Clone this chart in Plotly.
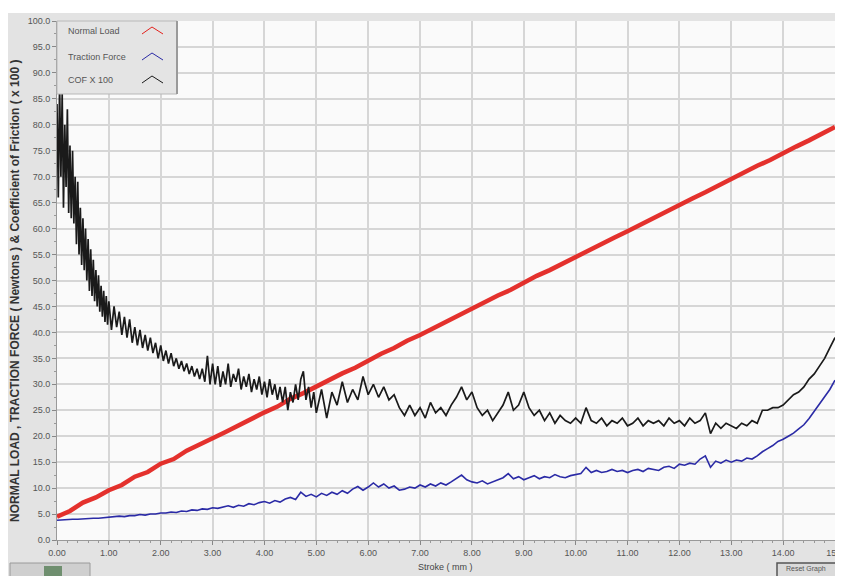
import numpy as np
import plotly.graph_objects as go

# ---------------- data ----------------
load_x = [round(0.25 * i, 2) for i in range(61)]
normal_load = [4.5, 5.6, 7.2, 8.2, 9.6, 10.6, 12.2, 13.1, 14.7, 15.6, 17.2, 18.3, 19.6, 20.8,
               22.1, 23.4, 24.6, 25.7, 27.2, 28.3, 29.6, 30.8, 32.1, 33.2, 34.6, 35.9, 37.0,
               38.4, 39.5, 40.8, 42.1, 43.2, 44.6, 45.8, 47.1, 48.2, 49.6, 50.9, 52.0, 53.3,
               54.6, 55.7, 57.1, 58.3, 59.5, 60.8, 62.1, 63.2, 64.6, 65.8, 67.0, 68.3, 69.6,
               70.7, 72.1, 73.2, 74.6, 75.8, 77.0, 78.3, 79.6]

force_x = [round(0.1 * i, 1) for i in range(151)]
traction_force = [3.8, 3.9, 3.9, 4.0, 4.0, 4.1, 4.1, 4.2, 4.2, 4.3, 4.4,
                  4.4, 4.6, 4.5, 4.7, 4.7, 4.9, 4.8, 5.0, 5.0, 5.2,
                  5.2, 5.4, 5.3, 5.6, 5.5, 5.8, 5.7, 6.0, 5.9, 6.2,
                  6.1, 6.4, 6.6, 6.3, 6.7, 6.5, 7.0, 6.8, 7.2, 7.4,
                  7.1, 7.6, 7.3, 7.9, 8.2, 7.8, 9.2, 8.4, 8.8, 8.3,
                  9.0, 8.6, 9.2, 8.8, 9.5, 9.0, 9.8, 10.3, 9.6, 10.2,
                  11.0, 10.2, 10.8, 10.0, 10.4, 9.6, 9.8, 10.2, 10.0, 10.6,
                  10.2, 10.8, 10.4, 11.0, 10.6, 11.2, 11.8, 12.5, 11.6, 11.2,
                  11.0, 11.4, 10.8, 11.2, 11.6, 12.0, 12.8, 11.8, 12.2, 11.6,
                  12.0, 12.4, 11.8, 12.2, 12.0, 12.6, 12.2, 12.0, 12.4, 12.6,
                  12.8, 14.0, 13.0, 13.4, 13.0, 13.2, 13.6, 13.2, 13.4, 13.0,
                  13.4, 13.6, 13.2, 13.8, 13.6, 13.4, 14.0, 14.2, 13.8, 14.6,
                  14.4, 14.8, 14.6, 15.6, 16.2, 14.0, 15.2, 14.8, 15.4, 15.0,
                  15.4, 15.2, 15.8, 15.6, 16.2, 17.0, 17.6, 18.2, 19.0, 19.4,
                  20.0, 20.6, 21.4, 22.2, 23.4, 24.8, 26.2, 27.4, 29.0, 30.8]

cof_x = ([round(0.025 * i, 3) for i in range(41)]
         + [round(1.0 + 0.05 * i, 2) for i in range(1, 81)]
         + [round(5.0 + 0.1 * i, 1) for i in range(1, 101)])
cof_x100 = [84, 66, 88, 70, 86, 64, 80, 68, 83, 63, 76, 62, 75, 61, 70, 57, 69, 55, 64, 53,
            62, 52, 60, 50, 58, 48, 56, 47, 54, 46, 52, 45, 51, 44, 49, 43, 48, 42, 47, 41.5, 46,
            # 1.05 - 3.00
            40.5, 45, 41, 44, 39.5, 43, 39, 42.5, 38, 41, 37.5, 40.5, 37, 39.5, 36.5, 39, 36, 38,
            35, 37.5, 34.5, 36.5, 34, 36, 33.5, 35, 33, 34.5, 32.5, 34, 32, 33.5, 31.5, 33, 31,
            33, 30.5, 35.5, 30, 34,
            # 3.05 - 5.00
            30, 33.5, 29.5, 32.5, 30, 34, 29.5, 32, 30.5, 33, 29, 31.5, 29.5, 32, 28.5, 31, 29,
            31.5, 28, 30.5, 27.5, 31, 28, 30, 27, 29.5, 26.5, 29.5, 25, 28.5, 26.5, 30, 27, 31,
            32.5, 27, 29.5, 25.5, 28.5, 24.5,
            # 5.1 - 15.0
            29, 23.5, 28.5, 26, 30.5, 26.5, 29, 27, 31.5, 28,
            30, 27.5, 29.5, 27, 28, 25.5, 24, 26, 24, 25.5,
            23.5, 26.5, 24.5, 25.5, 24, 26, 27.5, 29.5, 27, 28.5,
            25.5, 24, 25, 23, 24.5, 26, 28.5, 25, 26, 28.5,
            25.5, 24, 25, 23, 24.5, 22.5, 24, 23, 22.5, 23.5,
            22.5, 25.5, 23, 22.5, 23.5, 22, 23, 22.5, 23.5, 22,
            22.5, 23.5, 22, 23, 22.5, 23, 22, 23.5, 22.5, 23,
            22, 23.5, 22.5, 23, 24.5, 20.5, 22.5, 21.5, 22.5, 22,
            21.5, 22.5, 22, 23, 22.5, 25, 25, 25.5, 25.5, 26,
            27, 28, 28.5, 29.5, 31, 32, 33.5, 35, 37, 39]

series_names = ["Normal Load", "Traction Force", "COF X 100"]
series_colors = ["#e3211c", "#2b2ba6", "#1a1a1a"]
x_tick_vals = list(range(16))
x_tick_text = ["%.2f" % v for v in x_tick_vals[:-1]] + ["15.0"]
y_tick_vals = [5 * i for i in range(21)]
y_tick_text = ["%.1f" % v for v in y_tick_vals]
y_title = "NORMAL LOAD , TRACTION FORCE ( Newtons ) & Coefficient of Friction ( x 100 )"
x_title = "Stroke ( mm )"

# ---------------- figure ----------------
fig = go.Figure()
fig.add_trace(go.Scatter(x=load_x, y=normal_load, mode="lines", name=series_names[0],
                         line=dict(color=series_colors[0], width=4.5), opacity=0.92))
fig.add_trace(go.Scatter(x=force_x, y=traction_force, mode="lines", name=series_names[1],
                         line=dict(color=series_colors[1], width=1.6)))
fig.add_trace(go.Scatter(x=cof_x, y=cof_x100, mode="lines", name=series_names[2],
                         line=dict(color=series_colors[2], width=1.7)))

# The page body has an 8px margin, so the figure sits at (8, 8) in the window.
OFF = 8
W, H = 843 - OFF, 576 - OFF
# window pixel positions of the plot area in the reference
WL, WR, WT, WB = 57, 835, 21, 540
L, T = WL - OFF, WT - OFF
R = W - (WR - OFF)
B = H - (WB - OFF)
pw, ph = W - L - R, H - T - B


def px2x(px):  # window px -> paper
    return (px - WL) / pw


def py2y(py):
    return 1 - (py - WT) / ph


shapes = []
annotations = []
# white strip at the top of the window
shapes.append(dict(type="rect", xref="paper", yref="paper", x0=px2x(0), x1=px2x(850),
                   y0=py2y(13), y1=py2y(-5), fillcolor="white", line=dict(width=0), layer="above"))
# white strip at the right edge of the window
shapes.append(dict(type="rect", xref="paper", yref="paper", x0=px2x(840), x1=px2x(850),
                   y0=py2y(600), y1=py2y(-5), fillcolor="white", line=dict(width=0), layer="above"))
# custom legend box (LabVIEW style)
shapes.append(dict(type="rect", xref="paper", yref="paper", x0=px2x(57), x1=px2x(177),
                   y0=py2y(94), y1=py2y(21), fillcolor="#e4e4e4",
                   line=dict(color="#b8b8b8", width=1), layer="above"))
shapes.append(dict(type="line", xref="paper", yref="paper", x0=px2x(177), x1=px2x(177),
                   y0=py2y(94), y1=py2y(21), line=dict(color="#9a9a9a", width=2), layer="above"))
legend_rows = [31, 57, 80]
for name, col, row in zip(series_names, series_colors, legend_rows):
    annotations.append(dict(xref="paper", yref="paper", x=px2x(66), y=py2y(row), text=name,
                            showarrow=False, xanchor="left", yanchor="middle",
                            font=dict(family="Liberation Sans Narrow, Liberation Sans", size=9, color="#555")))
    gx0, gx1 = px2x(142), px2x(163)
    gm = px2x(152)
    path = "M %f,%f L %f,%f L %f,%f" % (gx0, py2y(row + 3), gm, py2y(row - 4), gx1, py2y(row + 3))
    shapes.append(dict(type="path", xref="paper", yref="paper", path=path,
                       line=dict(color=col, width=1), layer="above"))

# bottom widgets
shapes.append(dict(type="rect", xref="paper", yref="paper", x0=px2x(10), x1=px2x(90),
                   y0=py2y(580), y1=py2y(563), fillcolor="#cfcfcf",
                   line=dict(color="#9a9a9a", width=1), layer="above"))
shapes.append(dict(type="rect", xref="paper", yref="paper", x0=px2x(44), x1=px2x(62),
                   y0=py2y(576), y1=py2y(566), fillcolor="#6f8f6f",
                   line=dict(width=0), layer="above"))
shapes.append(dict(type="rect", xref="paper", yref="paper", x0=px2x(777), x1=px2x(836),
                   y0=py2y(580), y1=py2y(563), fillcolor="#dadada",
                   line=dict(color="#555", width=1.5), layer="above"))
annotations.append(dict(xref="paper", yref="paper", x=px2x(806), y=py2y(569), text="Reset Graph",
                        showarrow=False, xanchor="center", yanchor="middle",
                        font=dict(family="Liberation Sans", size=7, color="#555")))

# axis titles
annotations.append(dict(xref="paper", yref="paper", x=px2x(445), y=py2y(567), text=x_title,
                        showarrow=False, xanchor="center", yanchor="middle",
                        font=dict(family="Liberation Sans", size=9, color="#444")))
annotations.append(dict(xref="paper", yref="paper", x=px2x(15), y=py2y(291), text="<b>" + y_title + "</b>",
                        showarrow=False, textangle=-90, xanchor="center", yanchor="middle",
                        borderpad=0,
                        font=dict(family="Liberation Sans Narrow, Liberation Sans", size=12, color="#333")))

fig.update_layout(
    width=W, height=H,
    margin=dict(l=L, r=R, t=T, b=B, autoexpand=False),
    paper_bgcolor="#e3e3e3",
    plot_bgcolor="#fafafa",
    showlegend=False,
    shapes=shapes,
    annotations=annotations,
    xaxis=dict(range=[0, 15], tickvals=x_tick_vals, ticktext=x_tick_text,
               ticklabeloverflow="allow", automargin=False,
               showgrid=True, gridcolor="#d6d6d6", gridwidth=1.5, zeroline=False,
               showline=True, linecolor="#999", linewidth=1,
               ticks="outside", ticklen=4, tickcolor="#888",
               minor=dict(dtick=0.2, ticks="outside", ticklen=2, tickcolor="#999", showgrid=False),
               tickfont=dict(family="Liberation Sans", size=9, color="#555")),
    yaxis=dict(range=[0, 100], tickvals=y_tick_vals, ticktext=y_tick_text,
               automargin=False,
               showgrid=True, gridcolor="#d6d6d6", gridwidth=1.5, zeroline=False,
               showline=True, linecolor="#999", linewidth=1,
               ticks="outside", ticklen=4, tickcolor="#888",
               minor=dict(dtick=2.5, ticks="outside", ticklen=2, tickcolor="#999", showgrid=False),
               tickfont=dict(family="Liberation Sans", size=9, color="#555")),
)

fig.write_html("out.html")
